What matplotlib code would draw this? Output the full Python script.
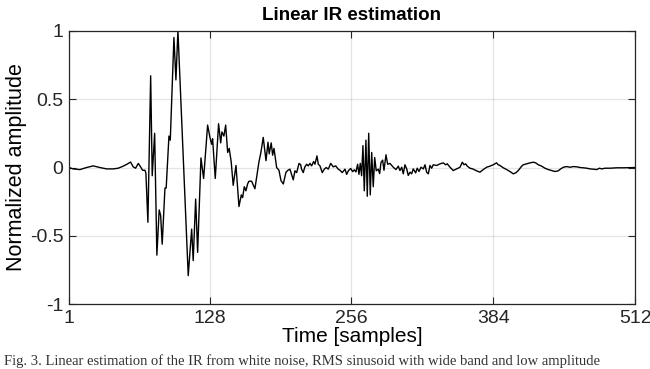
import matplotlib
matplotlib.use("Agg")
import matplotlib.pyplot as plt

# ---- data (sample index, normalized amplitude) ----
samples = [
    1, 4.9, 10.9, 17, 22.9, 29, 35, 41, 45.5, 50, 53.6, 56.7, 59, 61.2, 63.6, 65.7,
    67.5, 69.6, 70.5, 72.3, 74.8, 76.2, 78.4, 80.4, 82.5, 83.8, 85.2, 87.7, 88.8,
    91.3, 92.5, 95.8, 97.6, 99.4, 108.7, 111.8, 113.2, 115.4, 117.2, 120.2, 122.6,
    126.2, 128.3, 129.8, 130.7, 133.1, 136.1, 138, 139.1, 140.9, 142.5, 144.3,
    145.7, 147.5, 149.3, 151.8, 154.5, 156.6, 157.8, 159.3, 160.8, 162.3, 163.5,
    165.9, 168.9, 172.5, 174.3, 176.4, 178.9, 180.7, 181.8, 183.6, 184.9, 186.1,
    188.5, 190.6, 192.4, 194.5, 196.9, 198.7, 200.5, 202, 203.5, 205, 206.6,
    208.7, 210.2, 211, 212.5, 214, 215.6, 217, 218.6, 220.1, 221.9, 223.1, 224.9,
    226.1, 227.6, 229.7, 231.5, 233.3, 235.1, 237.3, 239.6, 241.8, 244.1, 245.7,
    247.7, 250.2, 251.7, 253.2, 255.3, 257.1, 258.6, 260.1, 261.6, 262.8, 264,
    265.2, 266.4, 267.6, 269.1, 270.3, 271.6, 273, 274.3, 275.7, 277, 278.4,
    280.2, 281.5, 282.7, 284.2, 285.4, 287.2, 288.7, 290.8, 293.8, 296.2, 298.3,
    299.8, 301.4, 302.8, 304.3, 305.9, 307.3, 308.9, 310.4, 311.8, 314, 315.4,
    317, 318.8, 320.9, 322.4, 323.9, 325.4, 326.9, 328.4, 329.9, 333, 336, 338.9,
    341.1, 342.5, 345, 347.9, 351, 354, 356.1, 357.6, 359.1, 360.6, 363, 365.4,
    368.4, 372, 375, 378, 381, 384, 385.5, 387, 388.5, 390, 393.1, 396.1, 399.1,
    402.1, 404.3, 406.6, 408.2, 409.7, 411.1, 414.2, 417.2, 420.2, 422.3, 424.7,
    427.7, 430.7, 433.7, 436.7, 439.7, 442.7, 444.9, 447.3, 450.3, 453.3, 456.3,
    459.4, 462.4, 465.4, 468.4, 471.4, 474.4, 477.4, 479.8, 481.9, 484.9, 489.4,
    495.5, 501.5, 509, 512,
]
amplitude = [
    0, -0.01, -0.015, 0, 0.012, 0, -0.01, -0.01, -0.005, 0.01, 0.025, 0.04, 0.005,
    -0.005, 0.03, 0.005, -0.02, -0.02, -0.04, -0.40, 0.67, -0.06, 0.25, -0.64,
    -0.31, -0.35, -0.56, -0.15, -0.15, 0.23, 0.20, 0.95, 0.64, 1.0, -0.79, -0.45,
    -0.68, -0.23, -0.62, 0.07, -0.08, 0.31, 0.22, 0.17, 0.21, -0.08, 0.32, 0.18,
    0.26, 0.23, 0.31, 0.11, 0.14, 0.04, -0.13, 0.015, -0.285, -0.20, -0.22, -0.14,
    -0.17, -0.12, -0.10, -0.10, -0.155, 0.04, 0.11, 0.22, 0.05, 0.185, 0.10, 0.18,
    0.09, 0.14, 0.0, -0.02, -0.095, -0.12, -0.035, -0.02, -0.012, -0.05, -0.09,
    -0.024, -0.037, 0.03, 0.02, -0.012, -0.037, 0.005, 0.024, 0.012, 0.03, 0.012,
    0.044, 0.024, 0.085, 0.024, 0.012, -0.037, -0.012, 0.0, -0.012, 0.03, 0.005,
    0.012, -0.012, -0.02, -0.037, -0.012, -0.05, -0.024, -0.007, -0.03, -0.017,
    -0.032, 0.024, -0.05, 0.03, -0.06, 0.16, -0.17, 0.20, -0.21, 0.25, -0.20,
    0.11, -0.14, 0.073, -0.024, -0.012, -0.044, 0.037, 0.054, -0.02, 0.093, 0.024,
    0.03, 0.002, -0.015, 0.01, -0.022, 0.002, -0.046, 0.02, -0.01, -0.058, -0.034,
    -0.046, -0.01, -0.039, -0.005, -0.029, 0.002, -0.01, 0.02, -0.034, -0.046,
    0.015, -0.005, 0.02, 0.015, 0.027, 0.034, 0.02, 0.027, 0.002, -0.022, -0.01,
    0.002, 0.039, 0.02, 0.027, 0.01, -0.005, -0.01, -0.022, -0.034, -0.015, 0.002,
    0.01, 0.02, 0.027, 0.034, 0.02, 0.015, -0.002, -0.015, -0.029, -0.046, -0.039,
    -0.022, -0.005, 0.01, 0.02, 0.027, 0.034, 0.039, 0.034, 0.02, 0.01, -0.005,
    -0.015, -0.022, -0.029, -0.024, -0.01, 0.002, 0.007, 0.002, 0.007, 0.005, 0.0,
    -0.002, -0.005, -0.01, -0.012, -0.015, -0.005, -0.01, -0.005, -0.005, -0.002,
    -0.002, 0.0, 0.0,
]

x_ticks = [1, 128, 256, 384, 512]
y_ticks = [-1, -0.5, 0, 0.5, 1]
y_tick_labels = ["-1", "-0.5", "0", "0.5", "1"]

title_text = "Linear IR estimation"
x_label = "Time [samples]"
y_label = "Normalized amplitude"
caption = ("Fig. 3. Linear estimation of the IR from white noise, RMS sinusoid "
           "with wide band and low amplitude")

plt.rcParams["font.family"] = ["Liberation Sans", "DejaVu Sans"]

fig = plt.figure(figsize=(6.5, 3.69), dpi=100)
ax = fig.add_axes([0.106, 0.175, 0.871, 0.742])

ax.plot(samples, amplitude, color="black", linewidth=1.0)

ax.set_xlim(1, 512)
ax.set_ylim(-1, 1)
ax.set_xticks(x_ticks)
ax.set_yticks(y_ticks)
ax.set_yticklabels(y_tick_labels)
ax.grid(True, color="#262626", alpha=0.12, linewidth=0.9)
ax.set_axisbelow(True)
ax.tick_params(direction="in", length=5, width=0.8, top=True, right=True,
               labelsize=14, colors="#262626", pad=4)
for sp in ax.spines.values():
    sp.set_color("#262626")
    sp.set_linewidth(0.9)

ax.set_title(title_text, fontsize=13.5, fontweight="bold", pad=8)
ax.set_xlabel(x_label, fontsize=15, labelpad=0)
ax.set_ylabel(y_label, fontsize=15.5, labelpad=2)

fig.text(0.006, 0.004, caption, fontsize=10.5, family="Liberation Serif",
         color="#333333", ha="left", va="bottom")

fig.savefig("out.png", dpi=100)
